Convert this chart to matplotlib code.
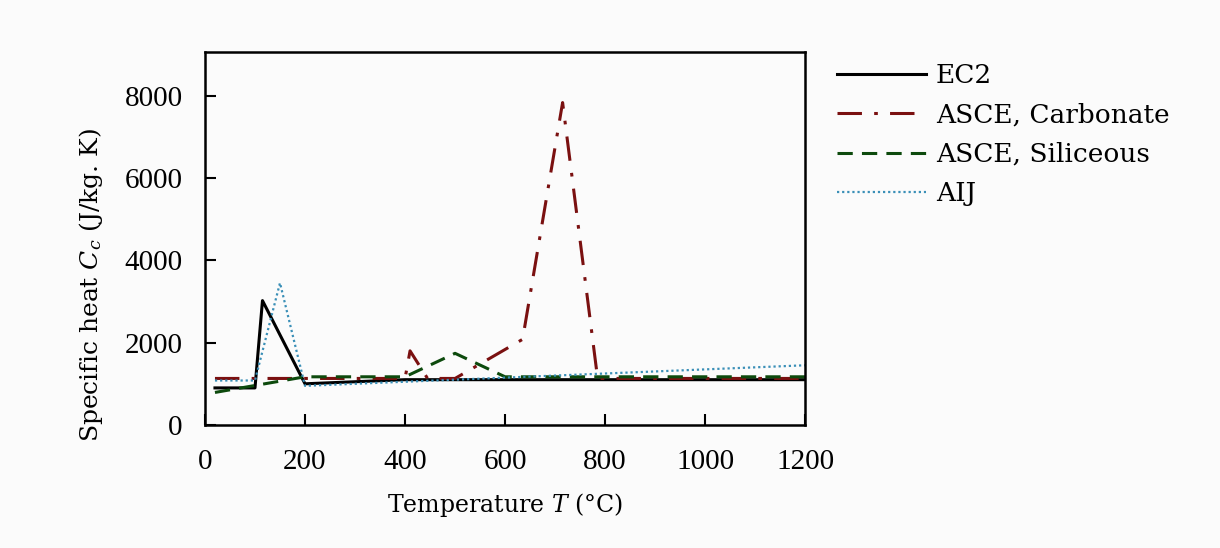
import matplotlib
matplotlib.use("Agg")
import matplotlib.pyplot as plt

# Specific heat of concrete vs temperature
ec2_T = [20, 100, 115, 200, 400, 1200]
ec2_c = [900, 900, 3020, 1000, 1100, 1100]

carb_T = [20, 400, 410, 445, 500, 635, 715, 785, 1200]
carb_c = [1130, 1130, 1800, 1130, 1130, 2080, 7830, 1130, 1130]

sil_T = [20, 200, 400, 500, 600, 1200]
sil_c = [790, 1170, 1170, 1740, 1170, 1170]

aij_T = [20, 100, 150, 200, 1200]
aij_c = [1080, 1080, 3450, 950, 1450]

plt.rcParams["font.family"] = ["DejaVu Serif"]
plt.rcParams["mathtext.fontset"] = "dejavuserif"

fig = plt.figure(figsize=(12.2, 5.48), dpi=100, facecolor="#fbfbfb")
ax = fig.add_axes([0.168, 0.2245, 0.492, 0.68])
ax.set_facecolor("#fbfbfb")

ax.plot(ec2_T, ec2_c, color="black", lw=2.2, label="EC2")
ax.plot(carb_T, carb_c, color="#7a1010", lw=2.2, dashes=(8, 4, 1.2, 4),
        label="ASCE, Carbonate")
ax.plot(sil_T, sil_c, color="#0d4a0d", lw=2.2, dashes=(5, 3),
        label="ASCE, Siliceous")
ax.plot(aij_T, aij_c, color="#3a8fb7", lw=1.6, linestyle=(0, (1, 1.3)),
        label="AIJ")

ax.set_xlim(0, 1200)
ax.set_ylim(0, 9050)
ax.set_xticks([0, 200, 400, 600, 800, 1000, 1200])
ax.set_yticks([0, 2000, 4000, 6000, 8000])
ax.tick_params(direction="in", length=8, width=1.5, labelsize=21,
               top=False, right=False)
ax.tick_params(axis="x", pad=17)
ax.tick_params(axis="y", pad=16)
for lab in ax.get_xticklabels() + ax.get_yticklabels():
    lab.set_fontfamily("Liberation Serif")
for s in ax.spines.values():
    s.set_linewidth(1.8)

ax.set_xlabel("Temperature $T$ (°C)", fontsize=17, labelpad=12)
ax.set_ylabel("Specific heat $C_c$ (J/kg. K)", fontsize=18, labelpad=12)
ax.yaxis.set_label_coords(-0.167, 0.375)

leg = ax.legend(loc="upper left", bbox_to_anchor=(1.035, 1.0), frameon=False,
                fontsize=19, handlelength=3.4, handletextpad=0.35,
                labelspacing=0.55, borderaxespad=0)

fig.savefig("out.png", dpi=100, facecolor=fig.get_facecolor())
